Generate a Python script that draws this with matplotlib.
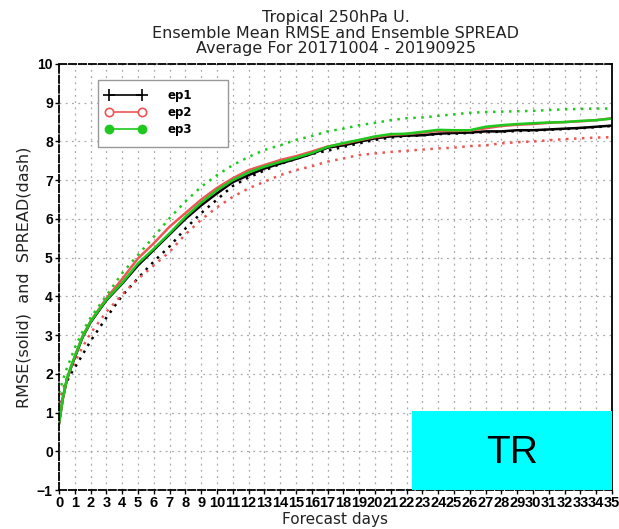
import numpy as np
import matplotlib.pyplot as plt
from matplotlib.lines import Line2D
from matplotlib.patches import Rectangle

# дни прогноза
days = [0, 0.25, 0.5, 0.75, 1, 1.5, 2, 3, 4, 5, 6, 7, 8, 9, 10, 11, 12, 13, 14, 15,
        16, 17, 18, 19, 20, 21, 22, 23, 24, 25, 26, 27, 28, 29, 30, 31, 32, 33, 34, 35]

# RMSE (сплошные)
rmse_ep1 = [0.72, 1.38, 1.85, 2.15, 2.42, 2.95, 3.33, 3.90, 4.33, 4.80, 5.20, 5.60, 6.00, 6.35,
            6.66, 6.95, 7.13, 7.30, 7.43, 7.55, 7.68, 7.84, 7.90, 7.99, 8.08, 8.13, 8.15, 8.16,
            8.20, 8.22, 8.23, 8.26, 8.26, 8.29, 8.29, 8.31, 8.33, 8.35, 8.38, 8.41]
rmse_ep2 = [0.72, 1.38, 1.85, 2.17, 2.45, 2.98, 3.36, 3.95, 4.45, 4.98, 5.37, 5.80, 6.15, 6.50,
            6.80, 7.05, 7.26, 7.39, 7.52, 7.62, 7.74, 7.87, 7.94, 8.03, 8.11, 8.17, 8.19, 8.23,
            8.27, 8.27, 8.28, 8.34, 8.40, 8.43, 8.45, 8.48, 8.50, 8.52, 8.55, 8.60]
rmse_ep3 = [0.72, 1.40, 1.87, 2.18, 2.45, 2.97, 3.35, 3.92, 4.35, 4.85, 5.23, 5.63, 6.05, 6.42,
            6.74, 7.00, 7.20, 7.35, 7.47, 7.58, 7.70, 7.86, 7.96, 8.04, 8.13, 8.19, 8.20, 8.25,
            8.30, 8.29, 8.29, 8.38, 8.42, 8.45, 8.47, 8.49, 8.50, 8.53, 8.55, 8.59]

# SPREAD (пунктир)
spread_ep1 = [1.25, 1.55, 1.80, 2.00, 2.16, 2.50, 2.85, 3.45, 4.02, 4.47, 4.90, 5.29, 5.75, 6.15,
              6.50, 6.85, 7.07, 7.25, 7.42, 7.55, 7.68, 7.76, 7.86, 7.95, 8.04, 8.10, 8.14, 8.16,
              8.19, 8.20, 8.22, 8.24, 8.25, 8.27, 8.28, 8.30, 8.32, 8.34, 8.37, 8.40]
spread_ep2 = [1.25, 1.60, 1.90, 2.10, 2.30, 2.70, 3.05, 3.60, 4.05, 4.45, 4.80, 5.15, 5.60, 5.98,
              6.30, 6.57, 6.79, 6.96, 7.13, 7.26, 7.36, 7.48, 7.56, 7.65, 7.69, 7.73, 7.76, 7.79,
              7.82, 7.84, 7.88, 7.90, 7.95, 7.98, 8.00, 8.03, 8.06, 8.08, 8.10, 8.11]
spread_ep3 = [1.50, 1.85, 2.15, 2.40, 2.67, 3.10, 3.45, 4.02, 4.60, 5.07, 5.54, 6.02, 6.45, 6.83,
              7.13, 7.39, 7.60, 7.78, 7.90, 8.04, 8.14, 8.26, 8.33, 8.42, 8.48, 8.55, 8.60, 8.62,
              8.66, 8.70, 8.74, 8.76, 8.77, 8.78, 8.79, 8.81, 8.83, 8.84, 8.85, 8.85]

names = ['ep1', 'ep2', 'ep3']
colors = ['black', '#ee5555', '#1ec81e']

W, H = 619, 529
fig = plt.figure(figsize=(W/100, H/100), dpi=100)
ax = fig.add_axes([59/W, 1 - 490/H, (612 - 59)/W, (490 - 64)/H])

dots = (0, (1, 2.2))
for sp, c in zip([spread_ep1, spread_ep2, spread_ep3], colors):
    ax.plot(days, sp, color=c, lw=1.8, linestyle=dots)
for rm, c in zip([rmse_ep1, rmse_ep2, rmse_ep3], colors):
    ax.plot(days, rm, color=c, lw=1.8)

ax.set_xlim(0, 35)
ax.set_ylim(-1, 10)
ax.set_xticks(np.arange(0, 36, 1))
ax.set_yticks(np.arange(-1, 11, 1))
ax.grid(True, color='#aaaaaa', linestyle=(0, (1.5, 3.5)), lw=0.9)
ax.tick_params(length=3, width=1, pad=1.5)
for lab in ax.get_xticklabels():
    lab.set_family(['Liberation Sans Narrow', 'Liberation Sans'])
    lab.set_fontsize(10.5)
    lab.set_fontweight('bold')
for lab in ax.get_yticklabels():
    lab.set_family('Liberation Sans')
    lab.set_fontsize(10)
    lab.set_fontweight('bold')

for s in ['top', 'left', 'bottom']:
    ax.spines[s].set_linestyle((0, (4, 1.5)))
    ax.spines[s].set_linewidth(1.3)
ax.spines['right'].set_linewidth(1.3)

# плашка TR
ax.add_patch(Rectangle((0.6385, 0), 0.3615, 0.1845, transform=ax.transAxes,
                       facecolor='#00ffff', edgecolor='none', zorder=5))
ax.text(0.8195, 0.088, 'TR', transform=ax.transAxes, ha='center', va='center',
        fontsize=28, family='Liberation Sans', zorder=6)

ax.set_xlabel('Forecast days', fontsize=11, labelpad=1, color='#222222')
ax.set_ylabel('RMSE(solid)  and  SPREAD(dash)', fontsize=11.5, labelpad=4, color='#222222')
ax.set_title('Tropical 250hPa U.\nEnsemble Mean RMSE and Ensemble SPREAD\nAverage For 20171004 - 20190925',
             fontsize=11.5, linespacing=1.02, pad=8, color='#222222')

# рамка легенды
fig.patches.append(Rectangle((98/W, 1 - 147/H), 130/W, 67/H, transform=fig.transFigure,
                             facecolor='white', edgecolor='#999999', lw=1.0, zorder=3))
handles = [
    Line2D([], [], color='black', lw=1.2, marker='+', ms=9, mew=1.2),
    Line2D([], [], color='#ee5555', lw=1.2, marker='o', ms=6, mfc='white', mew=1.2),
    Line2D([], [], color='#1ec81e', lw=1.2, marker='o', ms=6),
]
leg = fig.legend(handles, names, loc='upper left', bbox_to_anchor=(105/W, 1 - 89/H),
                 numpoints=2, handlelength=3.4, fontsize=8.5, frameon=False,
                 borderpad=0, labelspacing=0.35, handletextpad=1.9, borderaxespad=0)
leg.set_zorder(4)
for t in leg.get_texts():
    t.set_fontweight('bold')

fig.savefig('out.png', dpi=100)
